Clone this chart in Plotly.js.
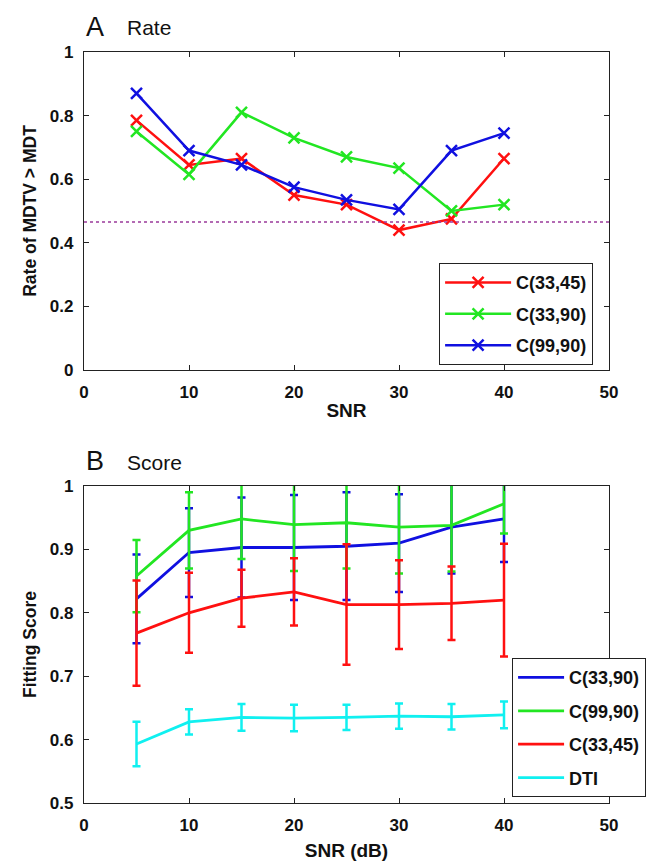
<!DOCTYPE html>
<html>
<head>
<meta charset="utf-8">
<script src="https://cdn.plot.ly/plotly-3.0.1.min.js"></script>
<style>html,body{margin:0;padding:0;background:#fff;}#chart{width:663px;height:866px;}</style>
</head>
<body>
<div id="chart"></div>
<script>
// ---- Data ----
const snr = [5, 10, 15, 20, 25, 30, 35, 40];

// Panel A: Rate of MDTV > MDT
const rateC3345 = [0.785, 0.645, 0.665, 0.55, 0.52, 0.44, 0.475, 0.665];
const rateC3390 = [0.75, 0.615, 0.81, 0.73, 0.67, 0.635, 0.50, 0.52];
const rateC9990 = [0.87, 0.69, 0.645, 0.575, 0.535, 0.505, 0.69, 0.745];
const chanceLevel = 0.465;

// Panel B: Fitting score (mean and error)
const scoreC3390 = [0.822, 0.895, 0.903, 0.903, 0.905, 0.91, 0.935, 0.948];
const errC3390   = [0.07, 0.07, 0.079, 0.083, 0.085, 0.077, 0.073, 0.068];
const scoreC9990 = [0.858, 0.93, 0.948, 0.939, 0.942, 0.935, 0.938, 0.972];
const errC9990   = [0.057, 0.06, 0.063, 0.073, 0.072, 0.073, 0.073, 0.047];
const scoreC3345 = [0.768, 0.80, 0.823, 0.833, 0.813, 0.813, 0.815, 0.82];
const errC3345   = [0.083, 0.063, 0.045, 0.053, 0.095, 0.07, 0.058, 0.089];
const scoreDTI   = [0.593, 0.628, 0.635, 0.634, 0.635, 0.637, 0.636, 0.639];
const errDTI     = [0.035, 0.02, 0.021, 0.021, 0.02, 0.02, 0.02, 0.021];

const xTicks = [0, 10, 20, 30, 40, 50];

// ---- Styles ----
const RED = '#ff1010', GREEN = '#22e622', BLUE = '#1010e0', CYAN = '#10f0f0';
const FONT = 'Liberation Sans, Arial, sans-serif';
const INK = '#111';
const tickFont = {family: FONT, size: 17, weight: 'bold', color: INK};

function rateTrace(y, name, color) {
  return {x: snr, y: y, name: name, type: 'scatter', mode: 'lines+markers',
    xaxis: 'x', yaxis: 'y', legend: 'legend', legendgroup: name,
    line: {color: color, width: 2.5},
    marker: {symbol: 'x-thin', size: 11, line: {color: color, width: 2.5}}};
}
function scoreTrace(y, e, name, color) {
  return {x: snr, y: y, name: name, type: 'scatter', mode: 'lines',
    xaxis: 'x2', yaxis: 'y2', legend: 'legend2', legendgroup: name + 'b',
    line: {color: color, width: 2.8},
    error_y: {type: 'data', array: e, visible: true, color: color, thickness: 2.5, width: 4}};
}

const data = [
  rateTrace(rateC3345, 'C(33,45)', RED),
  rateTrace(rateC3390, 'C(33,90)', GREEN),
  rateTrace(rateC9990, 'C(99,90)', BLUE),
  scoreTrace(scoreC3390, errC3390, 'C(33,90)', BLUE),
  scoreTrace(scoreC9990, errC9990, 'C(99,90)', GREEN),
  scoreTrace(scoreC3345, errC3345, 'C(33,45)', RED),
  scoreTrace(scoreDTI, errDTI, 'DTI', CYAN)
];

const axisCommon = {
  showgrid: false, zeroline: false, showline: true, linecolor: '#222', linewidth: 1.2,
  mirror: 'ticks', ticks: 'inside', ticklen: 5, tickcolor: '#222', tickwidth: 1,
  tickfont: tickFont
};
const xTitleFont = {family: FONT, size: 19, weight: 'bold', color: INK};
const yTitleFont = {family: FONT, size: 17.5, weight: 'bold', color: INK};

const layout = {
  width: 663, height: 866,
  margin: {l: 84, r: 54, t: 52, b: 63},
  paper_bgcolor: '#fff', plot_bgcolor: '#fff',
  showlegend: true,
  xaxis: Object.assign({}, axisCommon, {domain: [0, 1], anchor: 'y', range: [0, 50],
    tickvals: xTicks, ticklabelstandoff: 6,
    title: {text: 'SNR', font: xTitleFont, standoff: 3}}),
  yaxis: Object.assign({}, axisCommon, {domain: [0.5766, 1], anchor: 'x', range: [0, 1], dtick: 0.2,
    ticklabelstandoff: 6,
    title: {text: 'Rate of MDTV > MDT', font: yTitleFont, standoff: 8}}),
  xaxis2: Object.assign({}, axisCommon, {domain: [0, 1], anchor: 'y2', range: [0, 50],
    tickvals: xTicks, ticklabelstandoff: 6,
    title: {text: 'SNR (dB)', font: xTitleFont, standoff: 10}}),
  yaxis2: Object.assign({}, axisCommon, {domain: [0, 0.4221], anchor: 'x2', range: [0.5, 1], dtick: 0.1,
    ticklabelstandoff: 6,
    title: {text: 'Fitting Score', font: yTitleFont, standoff: 8}}),
  legend: {x: 0.676, y: 0.719, xanchor: 'left', yanchor: 'top', bgcolor: '#fff',
    bordercolor: '#222', borderwidth: 1.2, traceorder: 'grouped', tracegroupgap: 5,
    itemwidth: 66,
    font: {family: FONT, size: 18, weight: 'bold', color: INK}},
  legend2: {x: 0.815, y: 0.008, xanchor: 'left', yanchor: 'bottom', bgcolor: '#fff',
    bordercolor: '#222', borderwidth: 1.2, traceorder: 'grouped', tracegroupgap: 7,
    itemwidth: 46,
    font: {family: FONT, size: 18, weight: 'bold', color: INK}},
  shapes: [{type: 'line', xref: 'x', yref: 'y', x0: 0, x1: 50, y0: chanceLevel, y1: chanceLevel,
    line: {color: '#9a3a9a', width: 1.5, dash: 'dot'}}],
  annotations: [
    {text: 'A', xref: 'paper', yref: 'paper', x: 0.0, y: 1.0333, xanchor: 'left', yanchor: 'middle',
      showarrow: false, font: {family: FONT, size: 27, color: INK}},
    {text: 'Rate', xref: 'paper', yref: 'paper', x: 0.078, y: 1.032, xanchor: 'left', yanchor: 'middle',
      showarrow: false, font: {family: FONT, size: 21, color: INK}},
    {text: 'B', xref: 'paper', yref: 'paper', x: 0.0, y: 0.4554, xanchor: 'left', yanchor: 'middle',
      showarrow: false, font: {family: FONT, size: 27, color: INK}},
    {text: 'Score', xref: 'paper', yref: 'paper', x: 0.078, y: 0.454, xanchor: 'left', yanchor: 'middle',
      showarrow: false, font: {family: FONT, size: 21, color: INK}}
  ]
};

Plotly.newPlot('chart', data, layout, {displayModeBar: false, staticPlot: true});
</script>
</body>
</html>
